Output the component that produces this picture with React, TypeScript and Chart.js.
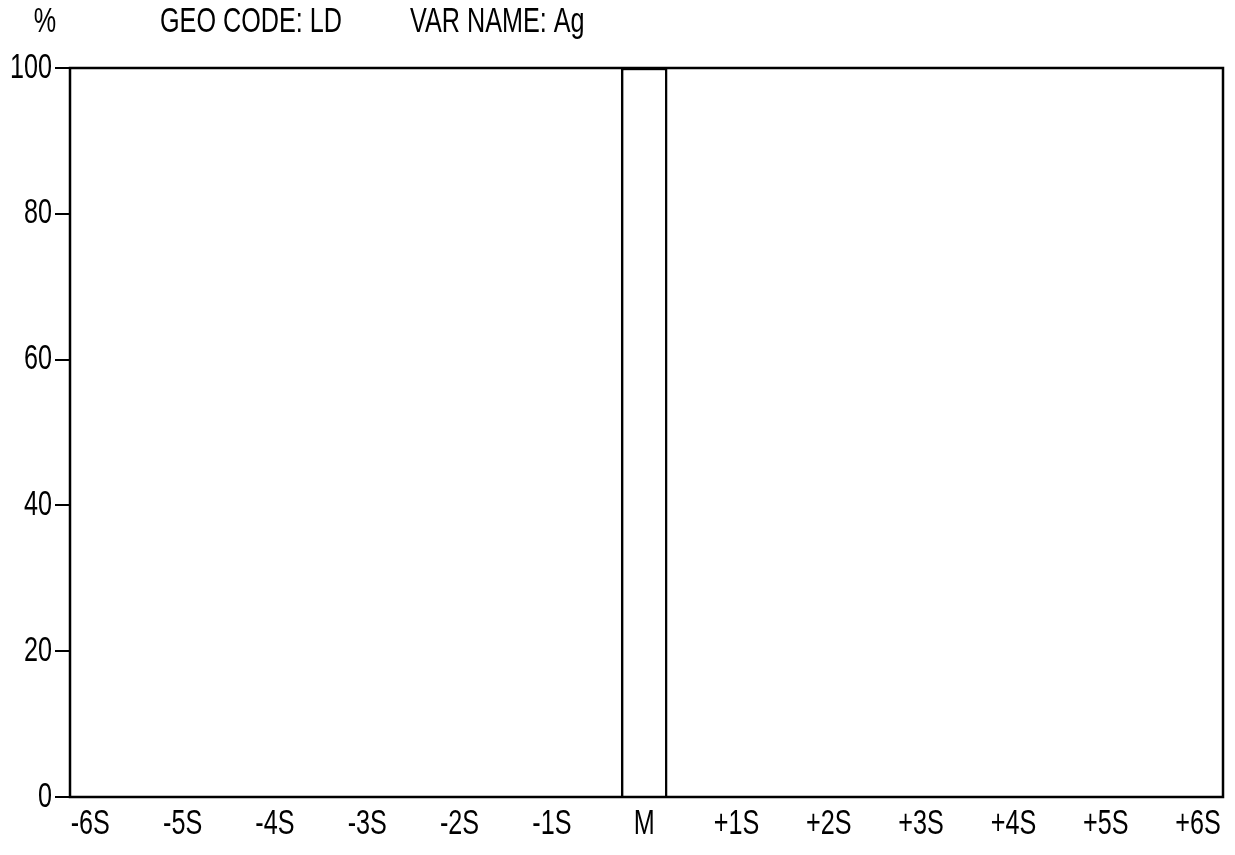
import React, { useEffect, useRef } from "react";
import { Chart, registerables } from "chart.js";

Chart.register(...registerables);

// ---- data ----
const X_LABELS = ["-6S", "-5S", "-4S", "-3S", "-2S", "-1S", "M", "+1S", "+2S", "+3S", "+4S", "+5S", "+6S"];
const X_TICK_VALUES = [-6, -5, -4, -3, -2, -1, 0, 1, 2, 3, 4, 5, 6];
const BAR_POSITIONS = [0];
const BAR_VALUES = [100];
const Y_TICK_VALUES = [0, 20, 40, 60, 80, 100];
const Y_TICK_LABELS = ["0", "20", "40", "60", "80", "100"];
const TITLE_UNIT = "%";
const TITLE_GEO = "GEO CODE: LD";
const TITLE_VAR = "VAR NAME: Ag";

const FONT = "35px 'Liberation Sans', Arial, sans-serif";
const SX = 0.72; // horizontal squeeze for the tall narrow printer font

const W = 1235;
const H = 855;

function drawText(ctx: CanvasRenderingContext2D, text: string, x: number, y: number, align: CanvasTextAlign) {
  ctx.save();
  ctx.translate(x, y);
  ctx.scale(SX, 1);
  ctx.textAlign = align;
  ctx.fillText(text, 0, 0);
  ctx.restore();
}

const framePlugin = {
  id: "frameAndText",
  afterDraw(chart: any) {
    const { ctx, chartArea, scales } = chart;
    ctx.save();
    ctx.strokeStyle = "#000";
    ctx.lineWidth = 2.5;
    ctx.strokeRect(chartArea.left, chartArea.top, chartArea.right - chartArea.left, chartArea.bottom - chartArea.top);
    ctx.fillStyle = "#000";
    ctx.textBaseline = "middle";
    ctx.font = FONT;
    // title row
    drawText(ctx, TITLE_UNIT, 45, 22, "center");
    drawText(ctx, TITLE_GEO, 160, 22, "left");
    drawText(ctx, TITLE_VAR, 410, 22, "left");
    // y labels
    const ys = scales.y;
    Y_TICK_VALUES.forEach((v, i) => {
      drawText(ctx, Y_TICK_LABELS[i], chartArea.left - 18, ys.getPixelForValue(v), "right");
    });
    // x labels
    const xs = scales.x;
    X_TICK_VALUES.forEach((v, i) => {
      drawText(ctx, X_LABELS[i], xs.getPixelForValue(v), chartArea.bottom + 27, "center");
    });
    ctx.restore();
  },
};

export default function App() {
  const canvasRef = useRef<HTMLCanvasElement | null>(null);

  useEffect(() => {
    document.body.style.margin = "0";
    const canvas = canvasRef.current;
    if (!canvas) return;
    const chart = new Chart(canvas, {
      type: "bar",
      data: {
        datasets: [
          {
            data: BAR_POSITIONS.map((x, i) => ({ x, y: BAR_VALUES[i] })),
            backgroundColor: "#ffffff",
            borderColor: "#000000",
            borderWidth: 2.5,
            barThickness: 46,
          },
        ],
      },
      options: {
        responsive: false,
        animation: false,
        devicePixelRatio: 1,
        layout: { padding: { top: 68, right: 12, left: 0, bottom: 0 } },
        plugins: {
          legend: { display: false },
          tooltip: { enabled: false },
          title: { display: false },
        },
        scales: {
          x: {
            type: "linear",
            offset: false,
            min: -6.22,
            max: 6.27,
            afterBuildTicks: (scale: any) => {
              scale.ticks = X_TICK_VALUES.map((v) => ({ value: v }));
            },
            afterFit: (scale: any) => {
              scale.height = H - 797;
            },
            grid: { display: false, drawTicks: false },
            border: { display: false },
            ticks: { display: false },
          },
          y: {
            type: "linear",
            min: 0,
            max: 100,
            afterBuildTicks: (scale: any) => {
              scale.ticks = Y_TICK_VALUES.map((v) => ({ value: v }));
            },
            afterFit: (scale: any) => {
              scale.width = 70;
            },
            grid: {
              drawOnChartArea: false,
              drawTicks: true,
              tickLength: 15,
              color: "#000",
              lineWidth: 2,
            },
            border: { display: false },
            ticks: { display: false },
          },
        },
      },
      plugins: [framePlugin],
    } as any);
    return () => chart.destroy();
  }, []);

  return (
    <div style={{ width: W, height: H, overflow: "hidden", background: "#fff" }}>
      <canvas ref={canvasRef} width={W} height={H} style={{ display: "block" }} />
    </div>
  );
}
